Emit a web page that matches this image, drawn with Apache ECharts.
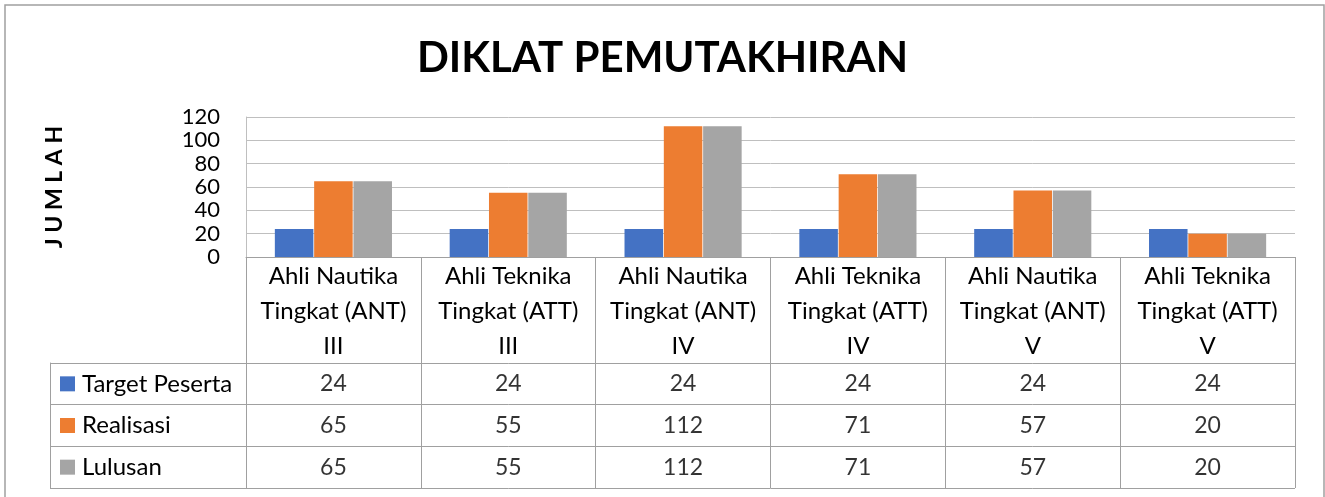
<!DOCTYPE html>
<html>
<head>
<meta charset="utf-8">
<script src="https://cdn.jsdelivr.net/npm/echarts@6/dist/echarts.min.js"></script>
<style>
  html, body { margin: 0; padding: 0; background: #fff; }
  #chart { width: 1325px; height: 497px; }
</style>
</head>
<body>
<div id="chart"></div>
<script>
// kategori diklat
const categories = [
  'Ahli Nautika\nTingkat (ANT)\nIII',
  'Ahli Teknika\nTingkat (ATT)\nIII',
  'Ahli Nautika\nTingkat (ANT)\nIV',
  'Ahli Teknika\nTingkat (ATT)\nIV',
  'Ahli Nautika\nTingkat (ANT)\nV',
  'Ahli Teknika\nTingkat (ATT)\nV'
]
const seriesNames = ['Target Peserta', 'Realisasi', 'Lulusan']
const targetPeserta = [24, 24, 24, 24, 24, 24]
const realisasi = [65, 55, 112, 71, 57, 20]
const lulusan = [65, 55, 112, 71, 57, 20]
const yTicks = [0, 20, 40, 60, 80, 100, 120]

const colors = ['#4472C4', '#ED7D31', '#A5A5A5']
const lineGray = '#a0a0a0'
const font = 'Lato'
const values = [targetPeserta, realisasi, lulusan]

// sel tabel data: [kategori, baris, nilai]
const cells = []
values.forEach((arr, s) => {
  arr.forEach((v, i) => cells.push([categories[i], seriesNames[s], v]))
})

const rich = { t: { fontSize: 24, fontFamily: font, color: '#000', padding: [0, 0, 0, 7] } }
seriesNames.forEach((n, i) => {
  rich['s' + i] = { width: 15, height: 15, backgroundColor: colors[i] }
})

const chart = echarts.init(document.getElementById('chart'))
chart.setOption({
  backgroundColor: '#fff',
  animation: false,
  textStyle: { fontFamily: font },
  title: {
    text: 'DIKLAT PEMUTAKHIRAN',
    left: 'center',
    top: 32,
    textStyle: { fontSize: 42, fontWeight: 'bold', color: '#000', fontFamily: font }
  },
  graphic: [{
    type: 'rect',
    shape: { x: 5, y: 5, width: 1319, height: 520 },
    style: { fill: 'none', stroke: lineGray, lineWidth: 1.5 },
    silent: true
  }],
  grid: [
    { left: 246, right: 30, top: 117, height: 140 },
    { left: 246, right: 30, top: 363, height: 125 }
  ],
  xAxis: [{
    type: 'category',
    gridIndex: 0,
    data: categories,
    axisLine: { lineStyle: { color: lineGray } },
    axisTick: { show: true, length: 106, lineStyle: { color: lineGray } },
    axisLabel: {
      interval: 0,
      margin: 2,
      fontSize: 24,
      lineHeight: 35,
      color: '#000',
      fontFamily: font
    }
  }, {
    type: 'category',
    gridIndex: 1,
    data: categories,
    axisLine: { show: false },
    axisTick: { show: false },
    axisLabel: { show: false },
    splitLine: { show: true, lineStyle: { color: lineGray } }
  }],
  yAxis: [{
    type: 'value',
    gridIndex: 0,
    min: yTicks[0],
    max: yTicks[yTicks.length - 1],
    interval: 20,
    name: 'J U M L A H',
    nameLocation: 'middle',
    nameRotate: 90,
    nameGap: 180,
    nameTextStyle: { fontSize: 23, fontWeight: 'bold', color: '#000', fontFamily: font },
    axisLine: { show: true, lineStyle: { color: '#bfbfbf' } },
    axisTick: { show: false },
    axisLabel: { fontSize: 22, margin: 26, color: '#000', fontFamily: font, lineHeight: 23 },
    splitLine: { lineStyle: { color: '#bfbfbf' } }
  }, {
    type: 'category',
    gridIndex: 1,
    inverse: true,
    data: seriesNames,
    axisLine: { show: true, lineStyle: { color: lineGray } },
    axisTick: { show: true, length: 196, lineStyle: { color: lineGray } },
    splitLine: { show: true, lineStyle: { color: lineGray } },
    axisLabel: {
      align: 'left',
      margin: 186,
      formatter: v => '{s' + seriesNames.indexOf(v) + '|}{t|' + v + '}',
      rich: rich
    }
  }, {
    type: 'category',
    gridIndex: 1,
    position: 'left',
    offset: 196,
    data: seriesNames,
    axisLine: { show: true, lineStyle: { color: lineGray } },
    axisTick: { show: false },
    axisLabel: { show: false },
    splitLine: { show: false }
  }],
  series: seriesNames.map((n, i) => ({
    name: n,
    type: 'bar',
    xAxisIndex: 0,
    yAxisIndex: 0,
    barGap: '2%',
    barCategoryGap: '33%',
    itemStyle: { color: colors[i] },
    data: values[i]
  })).concat([{
    type: 'scatter',
    xAxisIndex: 1,
    yAxisIndex: 1,
    symbolSize: 1,
    itemStyle: { color: 'transparent' },
    label: {
      show: true,
      position: 'inside',
      fontSize: 23,
      color: '#000',
      fontFamily: font,
      formatter: p => String(p.value[2])
    },
    data: cells
  }])
})
</script>
</body>
</html>
